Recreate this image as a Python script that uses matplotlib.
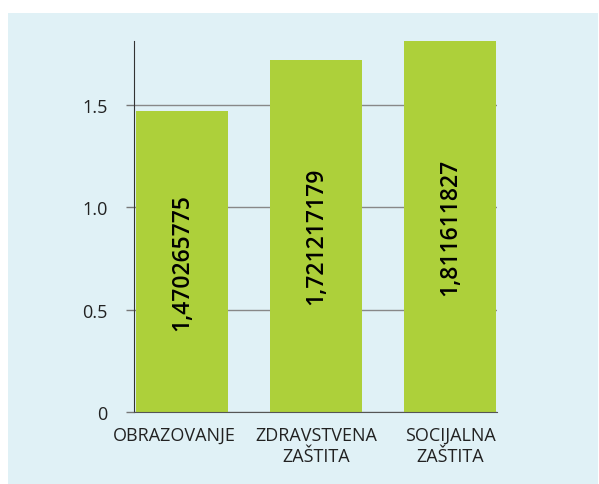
import matplotlib.pyplot as plt
from matplotlib.patches import Rectangle
from matplotlib.transforms import ScaledTranslation

plt.rcParams['font.family'] = ['Open Sans', 'DejaVu Sans']

# podaci
categories = ['OBRAZOVANJE', 'ZDRAVSTVENA\nZAŠTITA', 'SOCIJALNA\nZAŠTITA']
values = [1.470265775, 1.721217179, 1.811611827]
value_labels = ['1,470265775', '1,721217179', '1,811611827']
yticks = [0, 0.5, 1.0, 1.5]
ytick_labels = ['0', '0.5', '1.0', '1.5']

W, H = 599, 485
fig = plt.figure(figsize=(W / 100, H / 100), dpi=100)
fig.patch.set_facecolor('white')

# svijetloplava pozadina panela
fig.patches.append(Rectangle((8 / W, 0), (598 - 8) / W, (485 - 14) / H,
                             transform=fig.transFigure, facecolor='#E0F1F6',
                             edgecolor='none', zorder=-1))

ax = fig.add_axes([134 / W, (H - 413) / H, (497 - 134) / W, (413 - 42) / H])
ax.set_facecolor('none')

x = range(len(categories))
ax.bar(x, values, width=0.69, color='#ADD03A', zorder=2)
for i, (v, lab) in enumerate(zip(values, value_labels)):
    ax.text(i, v / 2, lab, rotation=90, ha='center', va='center',
            fontsize=16.5, fontweight='semibold', color='black', zorder=3)

ax.set_xlim(-0.36, 2.35)
ax.set_ylim(0, max(values))
ax.set_yticks(yticks)
ax.set_yticklabels(ytick_labels, fontsize=13, color='#222222')
ax.set_xticks(list(x))
ax.set_xticklabels(categories, fontsize=13, color='#222222', linespacing=1.2)
ax.tick_params(axis='y', length=6, width=1, color='#777777', pad=13)
ax.tick_params(axis='x', length=0, pad=10)
ax.yaxis.grid(True, color='#888888', linewidth=1, zorder=1)
ax.set_axisbelow(True)

# prvi natpis je u originalu malo pomaknut ulijevo
lbl = ax.get_xticklabels()[0]
lbl.set_transform(lbl.get_transform() + ScaledTranslation(-0.08, 0, fig.dpi_scale_trans))

for s in ['top', 'right']:
    ax.spines[s].set_visible(False)
ax.spines['left'].set_color('#333333')
ax.spines['bottom'].set_color('#555555')

fig.savefig('out.png', dpi=100)
